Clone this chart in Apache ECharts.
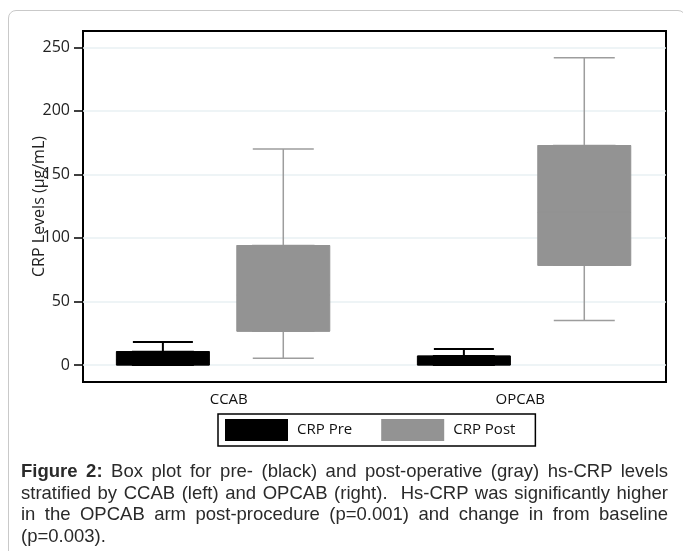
<!DOCTYPE html>
<html>
<head>
<meta charset="utf-8">
<script src="https://cdn.jsdelivr.net/npm/echarts@6/dist/echarts.min.js"></script>
<style>
  html, body { margin: 0; padding: 0; background: #fff; }
  #frame { position: absolute; left: 8px; top: 10px; width: 678px; height: 600px;
           border: 1px solid #c9c9c9; border-radius: 8px; box-sizing: border-box; }
  #main { position: absolute; left: 0; top: 0; width: 683px; height: 551px; }
  #caption { position: absolute; left: 21px; top: 460px; width: 647px; margin: 0;
             font-family: "Liberation Sans", Arial, sans-serif; font-size: 18.5px;
             line-height: 21.7px; color: #2a2a2a; text-align: justify; }
</style>
</head>
<body>
<div id="frame"></div>
<div id="main"></div>
<p id="caption"><b>Figure 2:</b> Box plot for pre- (black) and post-operative (gray) hs-CRP levels stratified by CCAB (left) and OPCAB (right).&nbsp; Hs-CRP was significantly higher in the OPCAB arm post-procedure (p=0.001) and change in from baseline (p=0.003).</p>
<script>
// groups on the x axis
var groups = ['CCAB', 'OPCAB'];
// [min, Q1, median, Q3, max]
var crpPre = [
    [0, 0, 4, 10.5, 18],
    [0, 0, 3, 7, 12.6]
];
var crpPost = [
    [5.3, 26.6, 55, 94, 170],
    [35, 78.4, 120, 172.7, 241.8]
];
var yTicks = [0, 50, 100, 150, 200, 250];

var font = '"Open Sans", "Noto Sans", sans-serif';
var preColor = '#000';
var postColor = '#939393';
var postWhisker = '#9d9d9d';

// boxplot on a value axis wants [x, min, Q1, median, Q3, max]
function whiskers(rows) {
    return rows.map(function (r, i) { return [i].concat(r); });
}
// the wide box only, whiskers pulled in to the box edges
function boxes(rows) {
    return rows.map(function (r, i) { return [i, r[1], r[1], r[2], r[3], r[3]]; });
}

// hidden x axes so the pre and post boxes sit where the picture has them
var prePos = { type: 'value', show: false, min: -0.2654, max: 1.6715 };
var postPos = { type: 'value', show: false, min: -0.6654, max: 1.2715 };

var myChart = echarts.init(document.getElementById('main'));
myChart.setOption({
    animation: false,
    grid: {
        left: 83, top: 31, right: 17, bottom: 169,
        show: true, borderColor: '#000', borderWidth: 2
    },
    legend: {
        left: 218, top: 414,
        padding: [5, 20, 5, 7],
        borderColor: '#000', borderWidth: 1.5,
        itemWidth: 63, itemHeight: 22, itemGap: 29,
        icon: 'rect',
        selectedMode: false,
        textStyle: { fontFamily: font, fontSize: 15, color: '#111', padding: [0, 0, 0, 4] },
        data: [
            { name: 'CRP Pre', itemStyle: { color: preColor, borderWidth: 0 } },
            { name: 'CRP Post', itemStyle: { color: postColor, borderWidth: 0 } }
        ]
    },
    xAxis: [
        {
            type: 'category', data: groups,
            axisLine: { show: false }, axisTick: { show: false },
            axisLabel: { margin: 10, fontFamily: font, fontSize: 15, color: '#111' }
        },
        prePos, prePos, postPos, postPos
    ],
    yAxis: {
        type: 'value', min: -13.4, max: 262.8,
        name: 'CRP Levels (\u03bcg/mL)', nameLocation: 'middle', nameGap: 36,
        nameMoveOverlap: false,
        nameTextStyle: { fontFamily: font, fontSize: 16, color: '#222' },
        axisLine: { show: false, onZero: false },
        axisTick: { show: true, length: 9, customValues: yTicks, lineStyle: { color: '#000', width: 1.5 } },
        axisLabel: { margin: 13, fontFamily: font, fontSize: 16, color: '#222', customValues: yTicks },
        splitLine: { show: true, lineStyle: { color: '#e9f1f3', width: 1.5 } }
    },
    series: [
        {
            name: 'CRP Pre whisker', type: 'boxplot', xAxisIndex: 1,
            boxWidth: [60, 60],
            itemStyle: { color: preColor, borderColor: preColor, borderWidth: 2 },
            emphasis: { disabled: true },
            data: whiskers(crpPre)
        },
        {
            name: 'CRP Post whisker', type: 'boxplot', xAxisIndex: 3,
            boxWidth: [61, 61],
            itemStyle: { color: postColor, borderColor: postWhisker, borderWidth: 1.5 },
            emphasis: { disabled: true },
            data: whiskers(crpPost)
        },
        {
            name: 'CRP Pre', type: 'boxplot', xAxisIndex: 2,
            boxWidth: [93, 93],
            itemStyle: { color: preColor, borderColor: preColor, borderWidth: 1 },
            emphasis: { disabled: true },
            data: boxes(crpPre)
        },
        {
            name: 'CRP Post', type: 'boxplot', xAxisIndex: 4,
            boxWidth: [93, 93],
            itemStyle: { color: postColor, borderColor: postColor, borderWidth: 1 },
            emphasis: { disabled: true },
            data: boxes(crpPost)
        }
    ]
});
</script>
</body>
</html>
